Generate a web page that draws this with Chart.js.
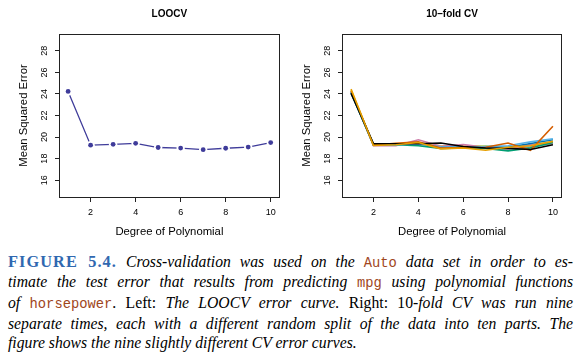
<!DOCTYPE html>
<html><head><meta charset="utf-8">
<script src="https://cdn.jsdelivr.net/npm/chart.js@4.4.1/dist/chart.umd.min.js"></script>
<style>
html,body{margin:0;padding:0;background:#fff;}
#wrap{position:relative;width:583px;height:354px;overflow:hidden;background:#fff;}
#c1{position:absolute;left:0;top:0;}
#c2{position:absolute;left:283px;top:0;}
#cap{position:absolute;left:8px;top:252.5px;width:565px;font-family:"Liberation Serif",serif;font-size:15.7px;line-height:18.9px;color:#000;}
.ln{text-align:justify;text-align-last:justify;}
.ln.last{text-align-last:left;}
.fig{color:#3068b0;font-weight:bold;font-size:16.3px;letter-spacing:1.1px;}
.tt{font-family:"Liberation Mono",monospace;font-size:13.8px;color:#a0461c;}
</style></head>
<body>
<div id="wrap">
<canvas id="c1" width="283" height="240"></canvas>
<canvas id="c2" width="300" height="240"></canvas>
<div id="cap">
<div class="ln"><b class="fig">FIGURE 5.4.</b> <i>Cross-validation was used on the</i> <span class="tt">Auto</span> <i>data set in order to es-</i></div>
<div class="ln"><i>timate the test error that results from predicting</i> <span class="tt">mpg</span> <i>using polynomial functions</i></div>
<div class="ln"><i>of</i> <span class="tt">horsepower</span>. Left: <i>The LOOCV error curve.</i> Right: 10-<i>fold CV was run nine</i></div>
<div class="ln"><i>separate times, each with a different random split of the data into ten parts. The</i></div>
<div class="ln last"><i>figure shows the nine slightly different CV error curves.</i></div>
</div>
</div>
<script>
// ---- data ----
const degrees = [1, 2, 3, 4, 5, 6, 7, 8, 9, 10];
const loocvMSE = [24.23, 19.25, 19.33, 19.42, 19.03, 18.98, 18.83, 18.96, 19.07, 19.49];
const kfoldRun1 = [24.45, 19.22, 19.28, 19.50, 18.90, 18.98, 18.78, 19.05, 19.20, 19.60];
const kfoldRun2 = [24.05, 19.38, 19.38, 19.38, 19.45, 19.12, 18.98, 18.95, 18.85, 19.28];
const kfoldRun3 = [24.30, 19.25, 19.42, 19.55, 18.98, 19.02, 19.05, 19.45, 18.78, 21.00];
const kfoldRun4 = [24.20, 19.28, 19.30, 19.35, 19.10, 19.05, 19.15, 19.20, 19.55, 19.85];
const kfoldRun5 = [24.15, 19.30, 19.35, 19.40, 19.05, 19.10, 19.10, 19.05, 19.40, 19.75];
const kfoldRun6 = [24.10, 19.25, 19.30, 19.20, 18.95, 18.98, 18.95, 18.72, 19.00, 19.50];
const kfoldRun7 = [24.25, 19.20, 19.20, 19.75, 19.15, 19.30, 19.05, 18.90, 19.30, 19.45];
const kfoldRun8 = [24.35, 19.24, 19.30, 19.45, 19.20, 19.20, 19.18, 19.00, 19.30, 19.55];
const kfoldRun9 = [24.20, 19.30, 19.32, 19.30, 19.00, 19.00, 19.00, 18.95, 19.10, 19.40];
const xTickValues = [2, 4, 6, 8, 10];
const yTickValues = [16, 18, 20, 22, 24, 26, 28];

const kfoldRuns = [kfoldRun1, kfoldRun2, kfoldRun3, kfoldRun4, kfoldRun5, kfoldRun6, kfoldRun7, kfoldRun8, kfoldRun9];
const runColors = ['#E69F00', '#000000', '#D55E00', '#56B4E9', '#0072B2', '#009E73', '#CC79A7', '#F0E442', '#999999'];

Chart.defaults.color = '#000';
Chart.defaults.font.family = '"Liberation Sans", Arial, sans-serif';

const boxPlugin = {
  id: 'box',
  afterDraw(chart) {
    const {ctx, chartArea: a} = chart;
    ctx.save();
    ctx.strokeStyle = '#222';
    ctx.lineWidth = 1;
    ctx.strokeRect(Math.round(a.left) - 0.5, Math.round(a.top) + 0.5, Math.round(a.right - a.left) + 1, Math.round(a.bottom - a.top));
    ctx.restore();
  }
};

function pts(arr) { return degrees.map((d, i) => ({x: d, y: arr[i]})); }

function makeScales() {
  return {
    x: {
      type: 'linear', min: 0.64, max: 10.36,
      afterBuildTicks: s => { s.ticks = xTickValues.map(v => ({value: v})); },
      afterFit: s => { s.height = 43; },
      grid: {drawOnChartArea: false, drawTicks: true, tickLength: 5, color: '#222', lineWidth: 1},
      border: {display: false},
      ticks: {font: {size: 9}, color: '#000', padding: 5, maxRotation: 0, minRotation: 0, autoSkip: false},
      title: {display: true, text: 'Degree of Polynomial', font: {size: 11.3}, color: '#000', padding: {top: 0, bottom: 1.2}}
    },
    y: {
      type: 'linear', min: 14.44, max: 29.56,
      afterBuildTicks: s => { s.ticks = yTickValues.map(v => ({value: v})); },
      afterFit: s => { s.width = 60; },
      grid: {drawOnChartArea: false, drawTicks: true, tickLength: 5, color: '#222', lineWidth: 1},
      border: {display: false},
      ticks: {font: {size: 9}, color: '#000', padding: 5.5, minRotation: 90, maxRotation: 90, crossAlign: 'center', autoSkip: false},
      title: {display: true, text: 'Mean Squared Error', font: {size: 11.3}, color: '#000', padding: {top: 17.2, bottom: 0}}
    }
  };
}

function makeOptions(title, padRight) {
  return {
    responsive: false, animation: false,
    layout: {padding: {left: 0, right: padRight, top: 0, bottom: 0}},
    scales: makeScales(),
    plugins: {
      legend: {display: false},
      tooltip: {enabled: false},
      title: {display: true, text: title, fullSize: false, font: {size: 10, weight: 'bold'}, color: '#000', padding: {top: 8, bottom: 14}}
    }
  };
}

const loocvColor = '#3f3c9a';
new Chart(document.getElementById('c1'), {
  type: 'line',
  data: {
    datasets: [
      {data: pts(loocvMSE), borderColor: loocvColor, borderWidth: 1.3, pointRadius: 0, tension: 0, order: 3},
      {data: pts(loocvMSE), showLine: false, pointRadius: 4.2, pointBackgroundColor: '#fff', pointBorderWidth: 0, order: 2},
      {data: pts(loocvMSE), showLine: false, pointRadius: 2.4, pointBackgroundColor: loocvColor, pointBorderWidth: 0, order: 1}
    ]
  },
  options: makeOptions('LOOCV', 4),
  plugins: [boxPlugin]
});

new Chart(document.getElementById('c2'), {
  type: 'line',
  data: {
    datasets: kfoldRuns.map((r, i) => ({data: pts(r), borderColor: runColors[i], borderWidth: 1.6, pointRadius: 0, tension: 0}))
  },
  options: makeOptions('10–fold CV', 22),
  plugins: [boxPlugin]
});
</script>
</body></html>
